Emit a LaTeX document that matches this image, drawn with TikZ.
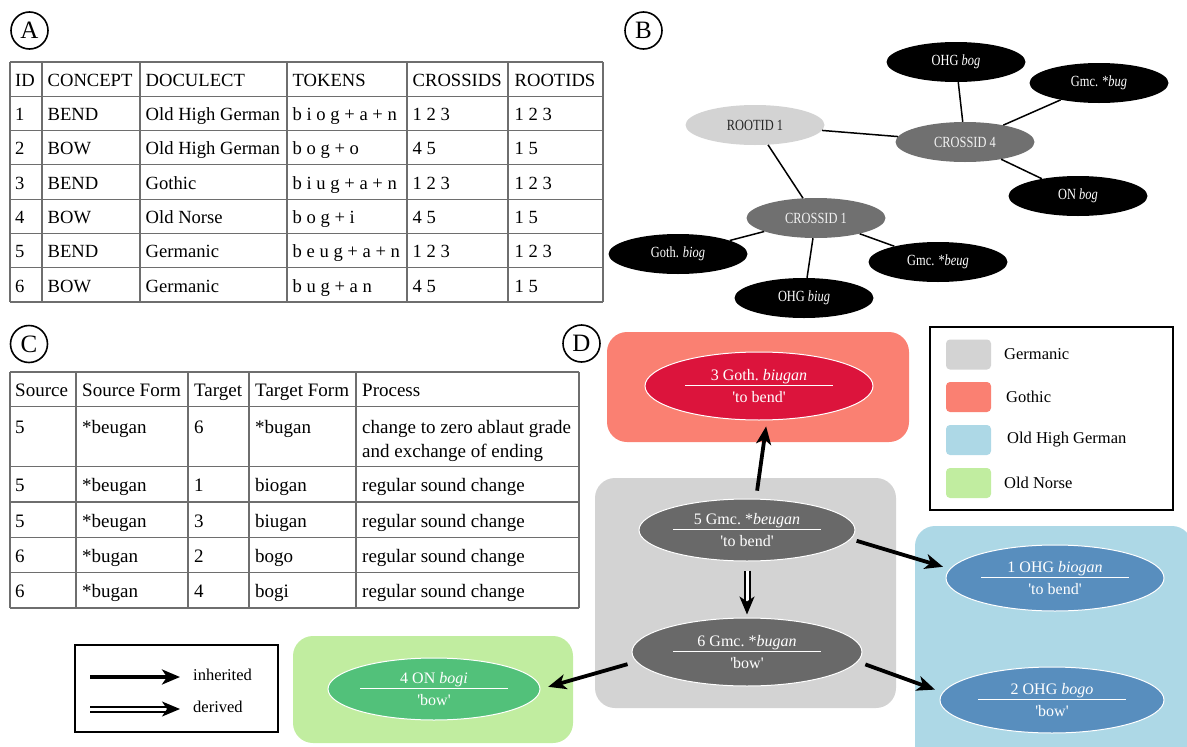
\documentclass[tikz,border=0pt]{standalone}
\usepackage{fontspec}
\setmainfont{Liberation Serif}
\newfontfamily\narrowserif{Liberation Serif}[FakeStretch=0.8]
\usetikzlibrary{positioning,arrows.meta,shapes.geometric}

\definecolor{tabline}{RGB}{110,110,110}
\definecolor{gmcbox}{RGB}{211,211,211}
\definecolor{gmcdark}{RGB}{105,105,105}
\definecolor{gothbox}{RGB}{250,128,114}
\definecolor{gothdark}{RGB}{220,20,60}
\definecolor{ohgbox}{RGB}{173,216,230}
\definecolor{ohgdark}{RGB}{88,142,190}
\definecolor{onbox}{RGB}{193,237,160}
\definecolor{ondark}{RGB}{82,193,122}
\definecolor{crossgray}{RGB}{112,112,112}

\newcommand\gloss[1]{\textquotesingle#1\textquotesingle}

\begin{document}
\begin{tikzpicture}[x=1pt,y=-1pt,
	panel/.style={circle,draw,line width=1.6pt,minimum size=37pt,inner sep=0pt,font=\fontsize{25}{25}\selectfont},
	tabgrid/.style={draw=tabline,line width=1.1pt},
	cella/.style={anchor=base west,inner sep=0pt,font=\fontsize{18.6}{22}\selectfont},
	cellc/.style={anchor=base west,inner sep=0pt,font=\fontsize{19}{24}\selectfont},
	leafnode/.style={ellipse,fill=black,text=white,minimum width=139pt,minimum height=40pt,inner sep=0pt,font=\narrowserif\fontsize{15.5}{18}\selectfont},
	crossnode/.style={leafnode,fill=crossgray,text=black!5},
	rootnode/.style={leafnode,fill=gmcbox,text=black!85},
	bedge/.style={line width=1.5pt},
	langbox/.style={rounded corners=20pt},
	form/.style={ellipse,draw=white,line width=1pt,text=white,inner sep=0pt,align=center,font=\fontsize{16}{22.5}\selectfont,
		path picture={\draw[white,line width=1.6pt] ([xshift=-74pt,yshift=0.5pt]path picture bounding box.center) -- ([xshift=74pt,yshift=0.5pt]path picture bounding box.center);}},
	swatch/.style={rounded corners=4pt,minimum width=45pt,minimum height=30pt,inner sep=0pt},
	legtext/.style={anchor=west,inner sep=0pt,font=\fontsize{16.5}{19}\selectfont},
	legbox/.style={draw,line width=1.2pt,inner sep=0pt},
	inherit/.style={line width=3.8pt,-{Stealth[length=18pt,width=15pt,inset=5pt]}},
	derived/.style={double,double distance=3pt,line width=2pt,-{Stealth[length=18pt,width=15pt,inset=5pt]}}]

	\useasboundingbox (0,0) rectangle (1187,747);

	%panel labels
	\node[panel] (pa) at (29.5,30.5) {A};
	\node[panel] (pb) at (643.5,30.5) {B};
	\node[panel] (pc) at (29,344) {C};
	\node[panel] (pd) at (581.5,343.5) {D};

	%table A
	\foreach \y in {62,96.3,130.6,164.9,199.2,233.5,267.8,302}
		\draw[tabgrid] (10,\y) -- (603,\y);
	\foreach \x in {10,42,140,287,407,508,603}
		\draw[tabgrid] (\x,62) -- (\x,302);
	\foreach \r/\idv/\cpt/\dlt/\tok/\crs/\rts in {0/ID/CONCEPT/DOCULECT/TOKENS/CROSSIDS/ROOTIDS,
		1/1/BEND/Old High German/b i o g + a + n/1 2 3/1 2 3,
		2/2/BOW/Old High German/b o g + o/4 5/1 5,
		3/3/BEND/Gothic/b i u g + a + n/1 2 3/1 2 3,
		4/4/BOW/Old Norse/b o g + i/4 5/1 5,
		5/5/BEND/Germanic/b e u g + a + n/1 2 3/1 2 3,
		6/6/BOW/Germanic/b u g + a n/4 5/1 5}{
		\node[cella] (a\r c1) at (15,{86.3+34.3*\r}) {\idv};
		\node[cella] (a\r c2) at (47.5,{86.3+34.3*\r}) {\cpt};
		\node[cella] (a\r c3) at (145.5,{86.3+34.3*\r}) {\dlt};
		\node[cella] (a\r c4) at (292.5,{86.3+34.3*\r}) {\tok};
		\node[cella] (a\r c5) at (412.5,{86.3+34.3*\r}) {\crs};
		\node[cella] (a\r c6) at (514.5,{86.3+34.3*\r}) {\rts};
	}

	%table C
	\foreach \y in {372,406.5,466.5,502,537.5,572.5,608}
		\draw[tabgrid] (10,\y) -- (579,\y);
	\foreach \x in {10,76,188,249,356,579}
		\draw[tabgrid] (\x,372) -- (\x,608);
	\node[cellc] (c0c1) at (15,396.5) {Source};
	\node[cellc] (c0c2) at (82,396.5) {Source Form};
	\node[cellc] (c0c3) at (194,396.5) {Target};
	\node[cellc] (c0c4) at (255,396.5) {Target Form};
	\node[cellc] (c0c5) at (362,396.5) {Process};
	\node[cellc] (c1c1) at (15,433) {5};
	\node[cellc] (c1c2) at (82,433) {*beugan};
	\node[cellc] (c1c3) at (194,433) {6};
	\node[cellc] (c1c4) at (255,433) {*bugan};
	\node[cellc] (c1c5) at (362,433) {change to zero ablaut grade};
	\node[cellc] (c1c5b) at (362,457) {and exchange of ending};
	\foreach \r/\y/\src/\sfm/\tgt/\tfm in {2/491.5/5/*beugan/1/biogan,
		3/527/5/*beugan/3/biugan,
		4/562.5/6/*bugan/2/bogo,
		5/597.5/6/*bugan/4/bogi}{
		\node[cellc] (c\r c1) at (15,\y) {\src};
		\node[cellc] (c\r c2) at (82,\y) {\sfm};
		\node[cellc] (c\r c3) at (194,\y) {\tgt};
		\node[cellc] (c\r c4) at (255,\y) {\tfm};
		\node[cellc] (c\r c5) at (362,\y) {regular sound change};
	}

	%graph B nodes
	\node[rootnode] (root1) at (755,125) {ROOTID 1};
	\node[crossnode] (cross4) at (965,142) {CROSSID 4};
	\node[crossnode] (cross1) at (816,218) {CROSSID 1};
	\node[leafnode] (ohgbog) at (956,62) {OHG \textit{bog}};
	\node[leafnode] (gmcbug) at (1099,83) {Gmc. *\textit{bug}};
	\node[leafnode] (onbog) at (1078,196) {ON \textit{bog}};
	\node[leafnode] (gothbiog) at (678,254) {Goth. \textit{biog}};
	\node[leafnode] (gmcbeug) at (938,262) {Gmc. *\textit{beug}};
	\node[leafnode] (ohgbiug) at (804,298) {OHG \textit{biug}};

	%graph B edges
	\draw[bedge] (root1) -- (cross4);
	\draw[bedge] (root1) -- (cross1);
	\draw[bedge] (cross4) -- (ohgbog);
	\draw[bedge] (cross4) -- (gmcbug);
	\draw[bedge] (cross4) -- (onbog);
	\draw[bedge] (cross1) -- (gothbiog);
	\draw[bedge] (cross1) -- (ohgbiug);
	\draw[bedge] (cross1) -- (gmcbeug);

	%language boxes
	\fill[gothbox,langbox] (607,332) rectangle (909,442);
	\fill[gmcbox,langbox] (595,478) rectangle (896,708);
	\begin{scope}
		\clip (0,0) rectangle (1187,747);
		\fill[ohgbox,langbox] (915,526) rectangle (1192,770);
	\end{scope}
	\fill[onbox,langbox] (293,636) rectangle (573,743);

	%forms
	\node[form,fill=gothdark,minimum width=228pt,minimum height=68pt] (f3) at (759,386) {3 Goth.\ \textit{biugan}\\\gloss{to bend}};
	\node[form,fill=gmcdark,minimum width=216pt,minimum height=62pt] (f5) at (747,530) {5 Gmc.\ *\textit{beugan}\\\gloss{to bend}};
	\node[form,fill=gmcdark,minimum width=230pt,minimum height=68pt] (f6) at (747,652) {6 Gmc.\ *\textit{bugan}\\\gloss{bow}};
	\node[form,fill=ohgdark,minimum width=218pt,minimum height=66pt] (f1) at (1055,578) {1 OHG \textit{biogan}\\\gloss{to bend}};
	\node[form,fill=ohgdark,minimum width=224pt,minimum height=66pt] (f2) at (1052,700) {2 OHG \textit{bogo}\\\gloss{bow}};
	\node[form,fill=ondark,minimum width=212pt,minimum height=62pt] (f4) at (434,689) {4 ON \textit{bogi}\\\gloss{bow}};

	%processes
	\draw[inherit,shorten <=8pt,shorten >=6pt] (f5.74) -- (f3.-77);
	\draw[inherit,shorten <=6pt,shorten >=7pt] (f5.-5) -- (f1.175);
	\draw[inherit,shorten <=8pt,shorten >=8pt] (f6.-5) -- (f2.176);
	\draw[inherit,shorten <=9pt,shorten >=8pt] (f6.185) -- (f4.east);
	\draw[derived,shorten <=9pt,shorten >=3pt] (f5.south) -- (f6.north);

	%language legend
	\node[legbox,minimum width=243pt,minimum height=183pt] (dlegend) at (1051.5,418.5) {};
	\node[swatch,fill=gmcbox] (sw1) at (968.5,354.5) {};
	\node[swatch,fill=gothbox] (sw2) at (968.5,397) {};
	\node[swatch,fill=ohgbox] (sw3) at (968.5,440) {};
	\node[swatch,fill=onbox] (sw4) at (968.5,483) {};
	\node[legtext] (lt1) at (1004,354.5) {Germanic};
	\node[legtext] (lt2) at (1006,397) {Gothic};
	\node[legtext] (lt3) at (1007,440) {Old High German};
	\node[legtext] (lt4) at (1004,483) {Old Norse};

	%arrow legend
	\node[legbox,minimum width=203pt,minimum height=87pt] (alegend) at (176.5,688.5) {};
	\coordinate (inh1) at (90,677);
	\coordinate (inh2) at (180,677);
	\coordinate (der1) at (90,709);
	\coordinate (der2) at (180,709);
	\draw[inherit] (inh1) -- (inh2);
	\draw[derived] (der1) -- (der2);
	\node[legtext] (lt5) at (193,675) {inherited};
	\node[legtext] (lt6) at (193,707) {derived};

\end{tikzpicture}
\end{document}
